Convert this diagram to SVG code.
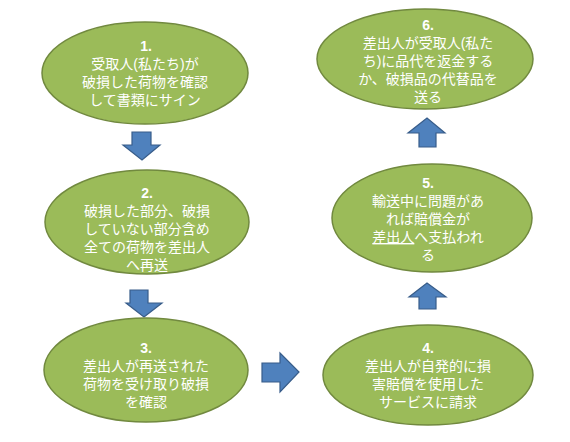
<svg xmlns="http://www.w3.org/2000/svg" width="570" height="442" viewBox="0 0 570 442">
<style>
.node ellipse{fill:#9BBB59;stroke:#71893F;stroke-width:1.5}
.node text{fill:#FFFFFF;font-family:"Liberation Sans","Noto Sans CJK JP",sans-serif;font-size:14px;text-anchor:middle}
.node .num{font-weight:bold}
.arrow{fill:#4F81BD;stroke:#385D8A;stroke-width:1.2;stroke-linejoin:miter}
</style>
<rect width="570" height="442" fill="#FFFFFF"/>
<g id="connectors">
<polygon class="arrow" points="132,132 151,132 151,145 160,145 142,160 123,145 132,145"/>
<polygon class="arrow" points="130,290 148,290 148,303 162,303 144,317 126,303 130,303"/>
<polygon class="arrow" points="262,363 280,363 280,353 299,372 280,392 280,382 262,382"/>
<polygon class="arrow" points="419,309 436,309 436,297 446,297 427,283 409,297 419,297"/>
<polygon class="arrow" points="419,147 436,147 436,133 445,133 427,118 408,133 419,133"/>
</g>
<g id="node1" class="node">
<ellipse cx="145" cy="73" rx="103" ry="51"/>
<text x="146" y="51" class="num">1.</text>
<text x="145" y="69">受取人(私たち)が</text>
<text x="145" y="87">破損した荷物を確認</text>
<text x="145" y="105">して書類にサイン</text>
</g>
<g id="node2" class="node">
<ellipse cx="147" cy="222" rx="102" ry="52"/>
<text x="147" y="198" class="num">2.</text>
<text x="147" y="216">破損した部分、破損</text>
<text x="147" y="234">していない部分含め</text>
<text x="147" y="252">全ての荷物を差出人</text>
<text x="147" y="270">へ再送</text>
</g>
<g id="node3" class="node">
<ellipse cx="146" cy="370" rx="102" ry="52"/>
<text x="146" y="353" class="num">3.</text>
<text x="146" y="371">差出人が再送された</text>
<text x="146" y="389">荷物を受け取り破損</text>
<text x="146" y="407">を確認</text>
</g>
<g id="node4" class="node">
<ellipse cx="428" cy="375" rx="105" ry="50"/>
<text x="428" y="353" class="num">4.</text>
<text x="428" y="371">差出人が自発的に損</text>
<text x="428" y="389">害賠償を使用した</text>
<text x="428" y="407">サービスに請求</text>
</g>
<g id="node5" class="node">
<ellipse cx="432" cy="218" rx="100" ry="54"/>
<text x="428" y="188" class="num">5.</text>
<text x="428" y="206">輸送中に問題があ</text>
<text x="428" y="224">れば賠償金が</text>
<text x="428" y="242"><tspan text-decoration="underline">差出人</tspan>へ支払われ</text>
<text x="428" y="260">る</text>
</g>
<g id="node6" class="node">
<ellipse cx="425" cy="59" rx="108" ry="50"/>
<text x="428" y="30" class="num">6.</text>
<text x="428" y="48">差出人が受取人(私た</text>
<text x="428" y="66">ち)に品代を返金する</text>
<text x="428" y="84">か、破損品の代替品を</text>
<text x="428" y="102">送る</text>
</g>
</svg>
